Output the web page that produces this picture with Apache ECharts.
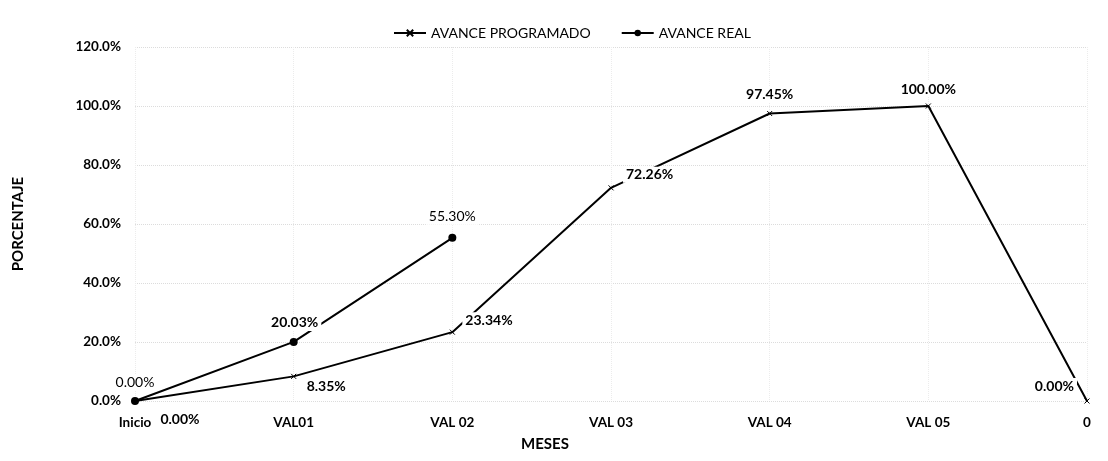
<!DOCTYPE html>
<html>
<head>
<meta charset="utf-8">
<script src="https://cdn.jsdelivr.net/npm/echarts@6/dist/echarts.min.js"></script>
<style>
  html, body { margin: 0; padding: 0; background: #fff; }
  #chart { width: 1108px; height: 461px; }
</style>
</head>
<body>
<div id="chart"></div>
<script>
// Month categories on the x axis
const meses = ['Inicio', 'VAL01', 'VAL 02', 'VAL 03', 'VAL 04', 'VAL 05', '0'];
// Planned progress (%)
const avanceProgramado = [0.00, 8.35, 23.34, 72.26, 97.45, 100.00, 0.00];
// Actual progress (%)
const avanceReal = [0.00, 20.03, 55.30];

const FONT = 'Lato, "Open Sans", sans-serif';
const crossPath = 'path://M0,0 L10,10 M10,0 L0,10';

// Per-point label placement for each series
const progLabels = [
  { position: 'bottom', offset: [45, 2], fontWeight: 'bold' },
  { position: 'right', offset: [2, 10], fontWeight: 'bold' },
  { position: 'right', offset: [2, -12], fontWeight: 'bold' },
  { position: 'right', offset: [4, -13], fontWeight: 'bold' },
  { position: 'top', offset: [0, -3], fontWeight: 'bold' },
  { position: 'top', offset: [0, -1], fontWeight: 'bold' },
  { position: 'left', offset: [-2, -15], fontWeight: 'bold' }
];
const realLabels = [
  { position: 'top', offset: [0, -2], fontWeight: 'normal' },
  { position: 'top', offset: [1, -2], fontWeight: 'bold' },
  { position: 'top', offset: [0, -4], fontWeight: 'normal' }
];

function withLabels(values, cfgs) {
  return values.map((v, i) => ({
    value: v,
    label: Object.assign({
      show: true,
      formatter: (p) => p.value.toFixed(2) + '%',
      color: '#000',
      fontFamily: FONT,
      fontSize: 14,
      backgroundColor: '#fff',
      padding: [1, 3]
    }, cfgs[i])
  }));
}

const chart = echarts.init(document.getElementById('chart'));
chart.setOption({
  animation: false,
  backgroundColor: '#fff',
  textStyle: { fontFamily: FONT },
  legend: {
    top: 21,
    left: 388,
    itemWidth: 32,
    itemHeight: 8,
    itemGap: 30,
    textStyle: { fontSize: 14, color: '#000', fontFamily: FONT },
    data: ['AVANCE PROGRAMADO', 'AVANCE REAL']
  },
  grid: { left: 135, right: 21, top: 47, bottom: 60 },
  xAxis: {
    type: 'category',
    data: meses,
    boundaryGap: false,
    name: 'MESES',
    nameLocation: 'middle',
    nameGap: 36,
    nameTextStyle: {
      fontSize: 15, fontWeight: 'bold', color: '#000', fontFamily: FONT,
      padding: [0, 132, 0, 0]
    },
    axisLine: { show: false },
    axisTick: { show: false },
    axisLabel: { color: '#000', fontWeight: 'bold', fontSize: 13.5, margin: 15, fontFamily: FONT },
    splitLine: { show: true, lineStyle: { color: '#ececec', type: 'dotted' } }
  },
  yAxis: {
    type: 'value',
    min: 0,
    max: 120,
    interval: 20,
    name: 'PORCENTAJE',
    nameLocation: 'middle',
    nameGap: 109,
    nameTextStyle: { fontSize: 15, fontWeight: 'bold', color: '#000', fontFamily: FONT },
    axisLine: { show: false },
    axisTick: { show: false },
    axisLabel: {
      color: '#000', fontWeight: 'bold', fontSize: 13.5, margin: 14, fontFamily: FONT,
      formatter: (v) => v.toFixed(1) + '%'
    },
    splitLine: { show: true, lineStyle: { color: '#dcdcdc', type: 'dotted' } }
  },
  series: [
    {
      name: 'AVANCE PROGRAMADO',
      type: 'line',
      data: withLabels(avanceProgramado, progLabels),
      symbol: crossPath,
      symbolSize: 5,
      showAllSymbol: true,
      itemStyle: { color: '#000', borderColor: '#000', borderWidth: 1 },
      lineStyle: { color: '#000', width: 2 },
      z: 2
    },
    {
      name: 'AVANCE REAL',
      type: 'line',
      data: withLabels(avanceReal, realLabels),
      symbol: 'circle',
      symbolSize: 8,
      itemStyle: { color: '#000' },
      lineStyle: { color: '#000', width: 2 },
      z: 3
    }
  ]
});
</script>
</body>
</html>
